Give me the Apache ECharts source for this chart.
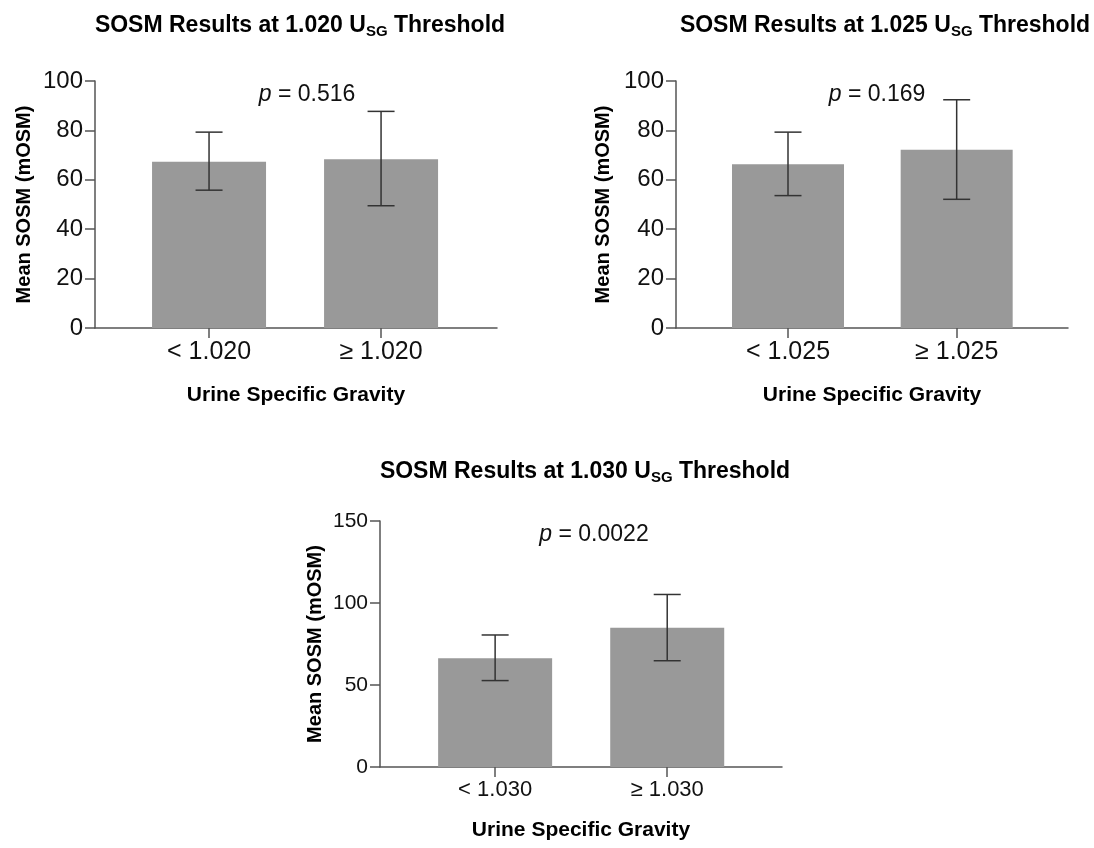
<!DOCTYPE html>
<html>
<head>
<meta charset="utf-8">
<script src="https://cdn.jsdelivr.net/npm/echarts@6/dist/echarts.min.js"></script>
<style>
html,body{margin:0;padding:0;background:#fff;}
#c{width:1094px;height:848px;}
</style>
</head>
<body>
<div id="c"></div>
<script>
// ---- data ----
const categories1 = ['< 1.020', '≥ 1.020'];
const means1 = [67.3, 68.3];
const upper1 = [79.3, 87.7];
const lower1 = [55.8, 49.5];
const pText1 = '0.516';

const categories2 = ['< 1.025', '≥ 1.025'];
const means2 = [66.3, 72.2];
const upper2 = [79.3, 92.4];
const lower2 = [53.6, 52.1];
const pText2 = '0.169';

const categories3 = ['< 1.030', '≥ 1.030'];
const means3 = [66.3, 84.9];
const upper3 = [80.5, 105.2];
const lower3 = [52.7, 64.8];
const pText3 = '0.0022';

const thresholds = ['1.020', '1.025', '1.030'];

// ---- chart ----
const FONT = '"Liberation Sans", Arial, Helvetica, sans-serif';
const chart = echarts.init(document.getElementById('c'), null, {renderer: 'canvas'});

const panels = [
  {cats: categories1, means: means1, up: upper1, lo: lower1, p: pText1, thr: thresholds[0],
   grid: {left: 95, top: 81, width: 402, height: 247}, xmin: -0.663, xmax: 1.674,
   ymax: 100, yint: 20, yFont: 24, cFont: 25, barW: 114, yGap: 61, xGap: 57,
   title: {x: 295, y: 7}, pPos: {x: 302, y: 78}},
  {cats: categories2, means: means2, up: upper2, lo: lower2, p: pText2, thr: thresholds[1],
   grid: {left: 676, top: 81, width: 392, height: 247}, xmin: -0.664, xmax: 1.66,
   ymax: 100, yint: 20, yFont: 24, cFont: 25, barW: 112, yGap: 63, xGap: 57,
   title: {x: 880, y: 7}, pPos: {x: 872, y: 78}},
  {cats: categories3, means: means3, up: upper3, lo: lower3, p: pText3, thr: thresholds[2],
   grid: {left: 380, top: 521, width: 402, height: 246}, xmin: -0.669, xmax: 1.667,
   ymax: 150, yint: 50, yFont: 21, cFont: 22, barW: 114, yGap: 55, xGap: 53,
   title: {x: 580, y: 453}, pPos: {x: 589, y: 518}}
];

const titles = [], grids = [], xAxes = [], yAxes = [], series = [];
panels.forEach((pn, i) => {
  titles.push({
    text: 'SOSM Results at ' + pn.thr + ' {u|U}{sub|SG} {b|Threshold}',
    left: pn.title.x, top: pn.title.y, textAlign: 'center',
    textStyle: {
      fontFamily: FONT, fontSize: 23, fontWeight: 'bold', color: '#000',
      rich: {
        u: {fontFamily: FONT, fontSize: 23, fontWeight: 'bold', color: '#000'},
        b: {fontFamily: FONT, fontSize: 23, fontWeight: 'bold', color: '#000'},
        sub: {fontFamily: FONT, fontSize: 15, fontWeight: 'bold', color: '#000', padding: [12, 0, 0, 0]}
      }
    }
  });
  titles.push({
    text: '{i|p} = ' + pn.p,
    left: pn.pPos.x, top: pn.pPos.y, textAlign: 'center',
    textStyle: {
      fontFamily: FONT, fontSize: 23, fontWeight: 'normal', color: '#111',
      rich: {
        i: {fontFamily: FONT, fontSize: 23, fontStyle: 'italic', color: '#111'}
      }
    }
  });
  grids.push(Object.assign({containLabel: false}, pn.grid));
  xAxes.push({
    type: 'value', gridIndex: i, min: pn.xmin, max: pn.xmax,
    name: 'Urine Specific Gravity', nameLocation: 'middle', nameGap: pn.xGap,
    nameTextStyle: {fontFamily: FONT, fontSize: 21, fontWeight: 'bold', color: '#000'},
    axisLine: {show: true, onZero: false, lineStyle: {color: '#555', width: 1.5}},
    axisTick: {show: true, length: 10, customValues: [0, 1], lineStyle: {color: '#555', width: 1.5}},
    axisLabel: {show: true, customValues: [0, 1], margin: 12,
      fontFamily: FONT, fontSize: pn.cFont, color: '#111',
      formatter: (v) => pn.cats[Math.round(v)]},
    splitLine: {show: false}
  });
  yAxes.push({
    type: 'value', gridIndex: i, min: 0, max: pn.ymax, interval: pn.yint,
    name: 'Mean SOSM (mOSM)', nameLocation: 'middle', nameGap: pn.yGap, nameRotate: 90,
    nameTextStyle: {fontFamily: FONT, fontSize: 20, fontWeight: 'bold', color: '#000'},
    axisLine: {show: true, onZero: false, lineStyle: {color: '#555', width: 1.5}},
    axisTick: {show: true, length: 10, lineStyle: {color: '#555', width: 1.5}},
    axisLabel: {margin: 12, fontFamily: FONT, fontSize: pn.yFont, color: '#111'},
    splitLine: {show: false}
  });
  series.push({
    type: 'bar', xAxisIndex: i, yAxisIndex: i, barWidth: pn.barW,
    itemStyle: {color: '#999999'},
    data: pn.means.map((m, k) => [k, m]),
    silent: true
  });
  series.push({
    type: 'custom', xAxisIndex: i, yAxisIndex: i, silent: true, z: 5,
    encode: {x: 0, y: [1, 2]},
    data: pn.means.map((m, k) => [k, pn.up[k], pn.lo[k]]),
    renderItem: function (params, api) {
      const x = api.value(0);
      const pHi = api.coord([x, api.value(1)]);
      const pLo = api.coord([x, api.value(2)]);
      const hw = 13.5;
      const st = {stroke: '#333', lineWidth: 1.5};
      return {
        type: 'group',
        children: [
          {type: 'line', shape: {x1: pHi[0], y1: pHi[1], x2: pLo[0], y2: pLo[1]}, style: st},
          {type: 'line', shape: {x1: pHi[0] - hw, y1: pHi[1], x2: pHi[0] + hw, y2: pHi[1]}, style: st},
          {type: 'line', shape: {x1: pLo[0] - hw, y1: pLo[1], x2: pLo[0] + hw, y2: pLo[1]}, style: st}
        ]
      };
    }
  });
});

chart.setOption({
  backgroundColor: '#fff',
  animation: false,
  title: titles,
  grid: grids,
  xAxis: xAxes,
  yAxis: yAxes,
  series: series
});
</script>
</body>
</html>
